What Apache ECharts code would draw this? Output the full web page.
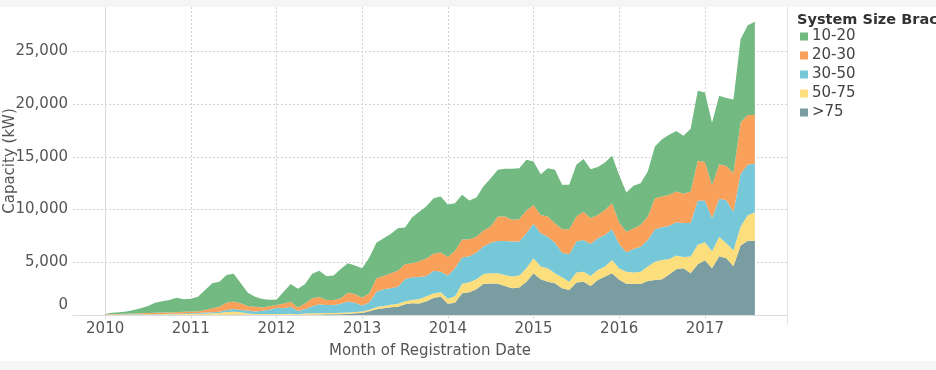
<!DOCTYPE html>
<html>
<head>
<meta charset="utf-8">
<script src="https://cdn.jsdelivr.net/npm/echarts@6/dist/echarts.min.js"></script>
<style>
html,body{margin:0;padding:0;background:#fff;}
#chart{width:936px;height:370px;}
</style>
</head>
<body>
<div id="chart"></div>
<script>
// Monthly series from Jan 2010 (index 0) to Aug 2017 (index 91)
const yearTicks = ['2010','2011','2012','2013','2014','2015','2016','2017'];
const seriesNames = ['>75','50-75','30-50','20-30','10-20'];
const legendOrder = ['10-20','20-30','30-50','50-75','>75'];

const gt75 = [
  0,0,0,0,0,0,10,10,10,10,10,10,
  20,20,20,20,30,30,40,30,20,20,20,20,
  20,20,20,20,30,30,40,60,60,70,120,170,
  200,350,540,630,730,790,1010,1110,1100,1300,1600,1750,
  1070,1170,2060,2150,2450,2970,2990,2960,2750,2530,2600,3160,
  3960,3390,3160,3000,2530,2370,3070,3160,2750,3320,3640,3960,
  3350,2960,2960,2940,3230,3320,3390,3850,4330,4430,3950,4800,
  5200,4430,5570,5380,4620,6600,7050,7050
];
const s50_75 = [
  10,20,20,20,30,30,30,40,50,60,70,80,
  80,90,110,150,170,250,260,220,130,80,70,70,
  70,80,90,40,120,130,130,140,140,140,120,110,
  130,150,210,230,250,280,300,320,420,480,430,400,
  480,600,900,950,950,910,960,990,1050,1110,1150,1270,
  1420,1200,1270,960,1050,790,950,950,950,950,950,1260,
  1050,1150,1060,1170,1360,1740,1830,1450,1320,1070,1590,1850,
  1700,1620,1830,1420,1530,1800,2400,2700
];
const s30_50 = [
  20,30,30,40,30,40,40,40,40,40,50,70,
  70,80,100,90,100,190,260,230,270,230,310,410,
  590,550,680,320,430,660,860,750,750,860,1030,890,
  570,690,1450,1580,1550,1620,2080,2150,2080,1920,2170,1950,
  2200,2660,2490,2470,2530,2620,2910,3070,3220,3320,3210,3320,
  3260,3160,3000,2900,2330,2590,2940,3010,3040,3010,3000,2910,
  2300,1840,2230,2370,2530,3070,3100,3160,3150,3230,3190,4180,
  3950,3130,3630,4080,3650,5000,4790,4610
];
const s20_30 = [
  30,40,50,60,80,90,120,130,130,130,130,140,
  150,150,240,370,490,700,710,630,430,460,300,320,
  270,450,460,320,520,760,680,470,470,510,850,830,
  730,870,1280,1260,1420,1510,1420,1320,1500,1650,1600,1820,
  1750,1670,1700,1610,1500,1500,1520,2310,2310,2060,2120,2150,
  1800,1740,1900,1840,2220,2380,2370,2680,2440,2210,2370,2470,
  2050,1950,1950,2060,2210,2940,2910,2930,2900,2770,2970,3790,
  3650,3120,3270,3240,3670,4850,4710,4590
];
const s10_20 = [
  40,130,160,200,330,480,660,950,1070,1180,1380,1190,
  1230,1400,1900,2380,2370,2630,2630,1900,1260,950,820,630,
  500,1100,1700,1780,1850,2340,2480,2250,2330,2770,2780,2700,
  2800,3400,3360,3580,3740,4020,3480,4370,4700,4950,5270,5310,
  4980,4500,4240,3670,3720,4200,4590,4430,4530,4840,4840,4810,
  4110,3860,4590,5060,4210,4210,4910,5000,4640,4540,4500,4490,
  4500,3710,4060,3950,4270,4900,5440,5690,5750,5490,5950,6650,
  6600,5920,6480,6450,6960,7900,8530,8850
];
const yTicks = [0,5000,10000,15000,20000,25000];

const layers = [gt75, s50_75, s30_50, s20_30, s10_20];
const colors = ['#7A9DA2','#FDDE7D','#76C8D8','#F9A05A','#73B982'];
const yearIdx = yearTicks.map((t,i)=>i*12);
const FONT = "'DejaVu Sans', 'Liberation Sans', Arial, sans-serif";

const chart = echarts.init(document.getElementById('chart'), null, {renderer:'canvas'});
chart.setOption({
  animation:false,
  textStyle:{fontFamily:FONT},
  color: colors,
  title:{
    text:'System Size Bracket', left:792, top:8,
    textStyle:{fontFamily:FONT,fontSize:14.5,fontWeight:'bold',color:'#333'}
  },
  legend:{
    orient:'vertical', left:795, top:24, icon:'rect',
    itemWidth:8, itemHeight:8, itemGap:4,
    data: legendOrder,
    textStyle:{fontFamily:FONT,fontSize:15,color:'#444',padding:[0,0,0,-1]}
  },
  grid:{left:73,right:149,top:7,bottom:55,containLabel:false,outerBoundsMode:'none'},
  xAxis:{
    type:'value', min:-4.5, max:95.5,
    axisLine:{show:true,lineStyle:{color:'#dcdcdc'}},
    axisTick:{show:true,customValues:yearIdx,length:4,lineStyle:{color:'#dcdcdc'}},
    axisLabel:{customValues:yearIdx,formatter:v=>yearTicks[Math.round(v/12)],color:'#555',fontSize:15,margin:7,fontFamily:FONT},
    splitLine:{show:true,lineStyle:{color:'#d4d4d4',type:[2,2]}},
    name:'Month of Registration Date', nameLocation:'middle', nameGap:29,
    nameTextStyle:{color:'#555',fontSize:15,fontFamily:FONT}
  },
  yAxis:{
    type:'value', min:0, max:29200,
    axisLine:{show:true,lineStyle:{color:'#dcdcdc'}},
    axisTick:{show:false,customValues:yTicks},
    axisLabel:{
      customValues:yTicks,
      formatter:v=> v===0 ? '{z|0}' : v.toLocaleString('en-US'),
      rich:{z:{fontFamily:FONT,fontSize:15,color:'#555',padding:[0,0,19,0]}},
      color:'#555',fontSize:15,margin:5,fontFamily:FONT
    },
    splitLine:{show:true,lineStyle:{color:'#d4d4d4',type:[2,2]}},
    name:'Capacity (kW)', nameLocation:'middle', nameGap:55, nameMoveOverlap:false,
    nameTextStyle:{color:'#555',fontSize:15,fontFamily:FONT}
  },
  graphic:[
    {type:'rect',shape:{x:0,y:0,width:936,height:7},style:{fill:'#f5f5f5'},silent:true,z:100},
    {type:'rect',shape:{x:0,y:361,width:936,height:9},style:{fill:'#f5f5f5'},silent:true,z:100},
    {type:'line',shape:{x1:787.5,y1:7,x2:787.5,y2:325},style:{stroke:'#e4e4e4',lineWidth:1},silent:true,z:100}
  ],
  series: layers.map((arr,k)=>({
    name: seriesNames[k],
    type:'line',
    stack:'total',
    // value first so that stacking happens on the capacity dimension
    data: arr.map((v,i)=>[v,i]),
    encode:{x:1,y:0},
    showSymbol:false,
    symbol:'none',
    lineStyle:{width:0},
    areaStyle:{color:colors[k],opacity:1},
    itemStyle:{color:colors[k]},
    emphasis:{disabled:true}
  }))
});
</script>
</body>
</html>
